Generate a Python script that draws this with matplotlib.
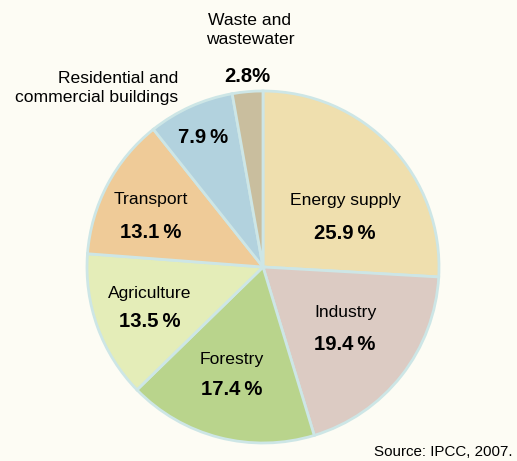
import matplotlib.pyplot as plt

W, H = 517, 461

sectors = ["Energy supply", "Industry", "Forestry", "Agriculture",
           "Transport", "Residential and\ncommercial buildings", "Waste and\nwastewater"]
shares = [25.9, 19.4, 17.4, 13.5, 13.1, 7.9, 2.8]
colors = ["#EFDFAE", "#DCCBC3", "#B9D48C", "#E4EDB8", "#EFCB98", "#B2D2DE", "#C9BE9E"]

plt.rcParams["font.family"] = ["Liberation Sans", "DejaVu Sans"]
bg = "#FDFCF4"

fig = plt.figure(figsize=(W / 100, H / 100), dpi=100, facecolor=bg)
ax = fig.add_axes([0, 0, 1, 1])
ax.set_facecolor(bg)

cx, cy, r = 263, 267, 176
# y axis is inverted, so counterclock=True in data space draws clockwise on screen
ax.pie(shares, colors=colors, startangle=-90, counterclock=True,
       center=(cx, cy), radius=r, frame=True,
       wedgeprops=dict(edgecolor="#CDE6E6", linewidth=2))
ax.set_xlim(0, W)
ax.set_ylim(H, 0)
ax.set_aspect("equal")
ax.axis("off")

fs, fb = 12.6, 14.6
# label name position, percent position
inside = {
    0: ((345, 200), (345, 233)),
    1: ((345, 312), (345, 344)),
    2: ((232, 359), (232, 389)),
    3: ((150, 293), (150, 321)),
    4: ((151, 199), (151, 232)),
}
for i, ((nx, ny), (px, py)) in inside.items():
    ax.text(nx, ny, sectors[i], ha="center", va="center", fontsize=fs)
    ax.text(px, py, f"{shares[i]}\u2009%", ha="center", va="center",
            fontsize=fb, fontweight="bold")

ax.text(178, 88, sectors[5], ha="right", va="center", fontsize=fs, linespacing=1.3)
ax.text(203, 137, f"{shares[5]}\u2009%", ha="center", va="center", fontsize=fb, fontweight="bold")
ax.text(250, 30, sectors[6], ha="center", va="center", fontsize=fs, linespacing=1.3)
ax.text(247, 77, f"{shares[6]}%", ha="center", va="center", fontsize=fb, fontweight="bold")

ax.text(513, 452, "Source: IPCC, 2007.", ha="right", va="center", fontsize=10.9)

fig.savefig("out.png", dpi=100, facecolor=bg)
